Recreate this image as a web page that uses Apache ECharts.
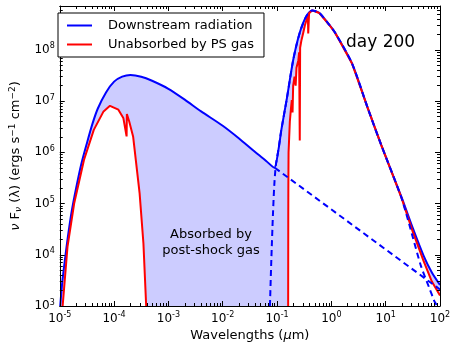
<!DOCTYPE html>
<html>
<head>
<meta charset="utf-8">
<script src="https://cdn.jsdelivr.net/npm/echarts@6/dist/echarts.min.js"></script>
<style>
html, body { margin: 0; padding: 0; background: #fff; }
#chart { width: 457px; height: 348px; }
</style>
</head>
<body>
<div id="chart"></div>
<script>
// wavelengths in micron, flux nu F_nu in ergs s^-1 cm^-2
const blueWl = [1.02e-5, 1.12e-5, 1.26e-5, 1.41e-5, 1.66e-5, 2.0e-5, 2.5e-5, 3.16e-5, 3.98e-5, 5.0e-5,
  7.1e-5, 1.0e-4, 1.41e-4, 2.0e-4, 3.16e-4, 5.0e-4, 1.0e-3, 2.0e-3, 4.0e-3, 1.0e-2,
  2.0e-2, 4.0e-2, 6.3e-2, 8.9e-2, 0.106, 0.120, 0.150, 0.198, 0.261, 0.344,
  0.442, 0.60, 0.912, 1.18, 2.39, 4.79, 8.3, 19.5, 31.6, 50, 70.8, 100];
const blueFlux = [1.0e3, 3.16e3, 8.9e3, 2.24e4, 7.1e4, 2.0e5, 6.0e5, 1.51e6, 3.55e6, 7.1e6,
  1.48e7, 2.4e7, 3.0e7, 3.24e7, 3.0e7, 2.5e7, 1.74e7, 1.07e7, 6.3e6, 3.3e6,
  1.86e6, 1.0e6, 6.8e5, 5.0e5, 1.12e6, 2.75e6, 1.05e7, 6.3e7, 2.14e8, 4.47e8,
  5.9e8, 5.25e8, 3.1e8, 2.14e8, 5.5e7, 6.8e6, 1.38e6, 1.35e5, 3.3e4, 9.5e3, 4.5e3, 2.57e3];

const redWl = [1.13e-5, 1.39e-5, 1.84e-5, 2.79e-5, 4.23e-5, 6.4e-5, 8.4e-5, 1.2e-4, 1.48e-4, 1.58e-4,
  1.70e-4, 1.72e-4, 1.9e-4, 2.24e-4, 2.95e-4, 3.47e-4, 3.9e-4, 3.98e-4, 1.0e-2,
  0.160, 0.161, 0.1615, 0.163, 0.172, 0.180, 0.187, 0.193, 0.198, 0.21,
  0.22, 0.228, 0.247, 0.255, 0.262, 0.266, 0.28, 0.303, 0.325, 0.348,
  0.37, 0.375, 0.389, 0.41, 0.442, 0.60, 0.912, 1.18, 2.39, 4.79,
  8.3, 19.5, 31.6, 50, 70.8, 100];
const redFlux = [1.0e3, 1.45e4, 1.0e5, 7.1e5, 2.75e6, 6.3e6, 8.1e6, 6.8e6, 4.7e6, 3.2e6,
  2.05e6, 5.6e6, 4.0e6, 2.05e6, 1.6e5, 1.66e4, 1.0e3, 3.2e2, '-',
  3.2e2, 5.6e4, 2.0e5, 1.0e6, 4.0e6, 7.0e6, 1.05e7, 6.0e6, 2.0e7, 3.0e7,
  2.0e7, 4.5e7, 6.3e7, 9.0e7, 1.7e6, 1.1e8, 1.5e8, 2.14e8, 3.0e8, 3.8e8,
  4.6e8, 2.1e8, 5.2e8, 5.6e8, 5.9e8, 5.25e8, 3.1e8, 2.14e8, 5.5e7, 6.8e6,
  1.38e6, 1.3e5, 2.8e4, 7.5e3, 3.0e3, 1.6e3];

// hot component alone (dashed)
const hotWl = [7.4e-2, 7.85e-2, 8.4e-2, 8.9e-2, 9.5e-2, 0.106, 0.120, 0.150, 0.198,
  0.261, 0.344, 0.442, 0.60, 0.912, 1.18, 2.39, 4.79, 8.3, 19.5, 31.6, 44.7, 63, 80, 89];
const hotFlux = [1.0e3, 8.0e3, 6.0e4, 2.3e5, 5.6e5, 1.12e6, 2.75e6, 1.05e7, 6.3e7,
  2.14e8, 4.47e8, 5.9e8, 5.25e8, 3.1e8, 2.14e8, 5.5e7, 6.8e6, 1.38e6, 1.3e5, 2.2e4, 6.0e3, 2.3e3, 1.2e3, 1.0e3];

// soft power-law component (dashed)
const softWl = [9.1e-2, 100];
const softFlux = [5.0e5, 2.1e3];

const xMajor = [1e-5, 1e-4, 1e-3, 1e-2, 1e-1, 1e0, 1e1, 1e2];
const yMajor = [1e3, 1e4, 1e5, 1e6, 1e7, 1e8];

function minorOf(major) {
  const out = [];
  major.forEach(m => { for (let k = 2; k <= 9; k++) out.push(m * k); });
  return out;
}
const xMinor = minorOf(xMajor.slice(0, -1));
const yMinor = minorOf(yMajor).filter(v => v < 7.2e8);

const pairs = (wl, fx) => wl.map((w, i) => [w, fx[i]]);

function powLabel(v) {
  const e = Math.round(Math.log10(v));
  return '{b|10}{s|' + e + '}';
}
const labelRich = {
  b: { fontSize: 12, fontFamily: 'DejaVu Sans', color: '#000' },
  s: { fontSize: 8, fontFamily: 'DejaVu Sans', color: '#000', padding: [0, 0, 7, 0] }
};

function xAxisDef(pos, major) {
  return {
    type: 'log', min: 1e-5, max: 1e2, position: pos, z: 10,
    axisLine: { show: major, lineStyle: { color: '#000', width: 1 } },
    axisTick: { show: true, inside: true, length: major ? 5 : 3, customValues: major ? xMajor : xMinor,
      lineStyle: { color: '#000', width: 1 } },
    axisLabel: { show: major && pos === 'bottom', customValues: xMajor, formatter: powLabel, rich: labelRich, margin: 5 },
    splitLine: { show: false }
  };
}
function yAxisDef(pos, major) {
  return {
    type: 'log', min: 1e3, max: 7.2e8, position: pos, z: 10,
    axisLine: { show: major, lineStyle: { color: '#000', width: 1 } },
    axisTick: { show: true, inside: true, length: major ? 5 : 3, customValues: major ? yMajor : yMinor,
      lineStyle: { color: '#000', width: 1 } },
    axisLabel: { show: major && pos === 'left', customValues: yMajor, formatter: powLabel, rich: labelRich, margin: 5 },
    splitLine: { show: false }
  };
}

const xAxes = [xAxisDef('bottom', true), xAxisDef('bottom', false), xAxisDef('top', true), xAxisDef('top', false)];
const yAxes = [yAxisDef('left', true), yAxisDef('left', false), yAxisDef('right', true), yAxisDef('right', false)];

Object.assign(xAxes[0], {
  name: 'Wavelengths ({i|μ}m)', nameLocation: 'middle', nameGap: 20,
  nameTextStyle: { fontSize: 13, fontFamily: 'DejaVu Sans', color: '#000',
    rich: { i: { fontSize: 13, fontStyle: 'italic', fontFamily: 'DejaVu Sans' } } }
});
Object.assign(yAxes[0], {
  name: '{i|ν} F{sub|ν} (λ) (ergs s{sup|−1} cm{sup|−2})', nameLocation: 'middle', nameGap: 30, nameRotate: 90,
  nameTextStyle: { fontSize: 13, fontFamily: 'DejaVu Sans', color: '#000',
    rich: {
      i: { fontSize: 13, fontStyle: 'italic', fontFamily: 'DejaVu Sans' },
      sub: { fontSize: 9, fontStyle: 'italic', fontFamily: 'DejaVu Sans', padding: [6, 0, 0, 0] },
      sup: { fontSize: 9, fontFamily: 'DejaVu Sans', padding: [0, 0, 7, 0] }
    } }
});

const chart = echarts.init(document.getElementById('chart'));
const option = {
  animation: false,
  grid: { left: 52, right: 17, top: 6, bottom: 42 },
  xAxis: xAxes,
  yAxis: yAxes,
  legend: {
    data: ['Downstream radiation', 'Unabsorbed by PS gas'],
    orient: 'vertical', left: 58, top: 13,
    borderColor: '#000', borderWidth: 1, backgroundColor: '#fff', borderRadius: 0,
    padding: [5, 10, 5, 9], itemGap: 4, itemWidth: 25, itemHeight: 2, icon: 'rect',
    textStyle: { fontSize: 13, fontFamily: 'DejaVu Sans', color: '#000', padding: [0, 0, 0, 11], lineHeight: 15 },
    z: 20
  },
  graphic: [
    { type: 'text', left: 346, top: 34, z: 30,
      style: { text: 'day 200', fontSize: 17, fontFamily: 'DejaVu Sans', fill: '#000' } },
    { type: 'text', x: 211, y: 243, z: 30,
      style: { text: 'Absorbed by\npost-shock gas', fontSize: 13, fontFamily: 'DejaVu Sans', fill: '#000',
        align: 'center', verticalAlign: 'middle', lineHeight: 16 } }
  ],
  series: [
    { type: 'line', name: 'fillBlue', data: pairs(blueWl, blueFlux), symbol: 'none', smooth: 0.25,
      lineStyle: { width: 0 }, areaStyle: { color: '#ccccff', opacity: 1 }, z: 1, silent: true },
    { type: 'line', name: 'fillRed', data: pairs(redWl, redFlux), symbol: 'none',
      lineStyle: { width: 0 }, areaStyle: { color: '#ffffff', opacity: 1 }, z: 2, silent: true },
    { type: 'line', name: 'Downstream radiation', data: pairs(blueWl, blueFlux), symbol: 'none', smooth: 0.25,
      color: '#0000ff', lineStyle: { color: '#0000ff', width: 2 }, z: 3 },
    { type: 'line', name: 'Unabsorbed by PS gas', data: pairs(redWl, redFlux), symbol: 'none',
      color: '#ff0000', lineStyle: { color: '#ff0000', width: 2 }, z: 4 },
    { type: 'line', name: 'hot', data: pairs(hotWl, hotFlux), symbol: 'none', smooth: 0.25,
      lineStyle: { color: '#0000ff', width: 2, type: [6, 4] }, z: 5 },
    { type: 'line', name: 'soft', data: pairs(softWl, softFlux), symbol: 'none',
      lineStyle: { color: '#0000ff', width: 2, type: [6, 4] }, z: 5 }
  ]
};
chart.setOption(option);
</script>
</body>
</html>
